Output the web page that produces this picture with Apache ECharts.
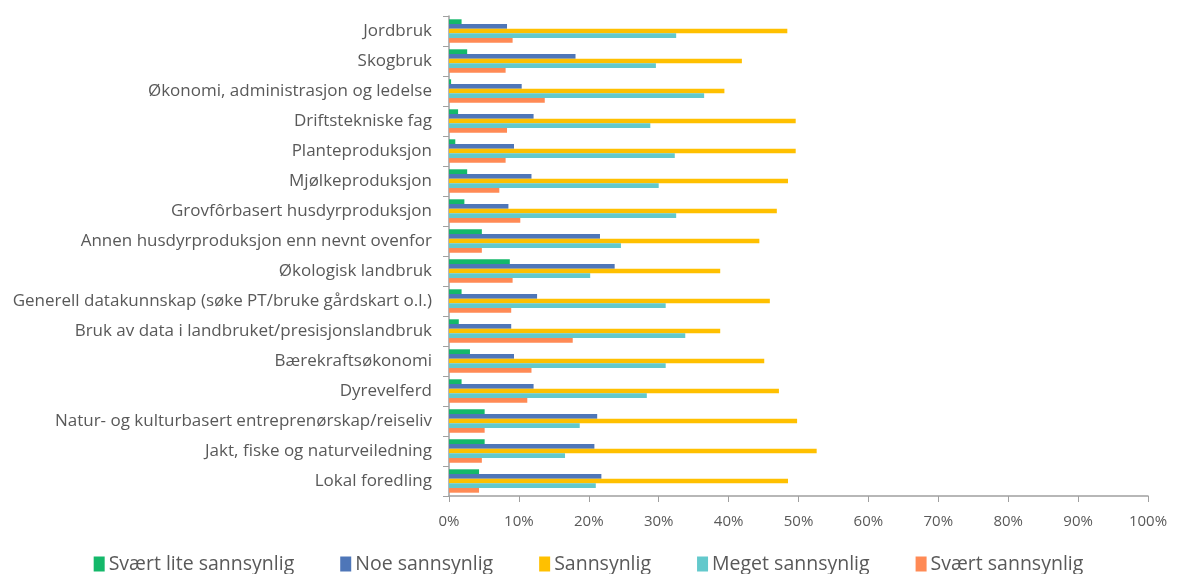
<!DOCTYPE html>
<html>
<head>
<meta charset="utf-8">
<script src="https://cdn.jsdelivr.net/npm/echarts@6/dist/echarts.min.js"></script>
<style>
	html, body { margin: 0; padding: 0; background: #fff; }
	#chart { width: 1177px; height: 574px; }
</style>
</head>
<body>
<div id="chart"></div>
<script>
	const categories = [
		"Jordbruk",
		"Skogbruk",
		"Økonomi, administrasjon og ledelse",
		"Driftstekniske fag",
		"Planteproduksjon",
		"Mjølkeproduksjon",
		"Grovfôrbasert husdyrproduksjon",
		"Annen husdyrproduksjon enn nevnt ovenfor",
		"Økologisk landbruk",
		"Generell datakunnskap (søke PT/bruke gårdskart o.l.)",
		"Bruk av data i landbruket/presisjonslandbruk",
		"Bærekraftsøkonomi",
		"Dyrevelferd",
		"Natur- og kulturbasert entreprenørskap/reiseliv",
		"Jakt, fiske og naturveiledning",
		"Lokal foredling"
	];

	const svaertLite = [1.8, 2.6, 0.3, 1.3, 0.9, 2.6, 2.2, 4.7, 8.7, 1.8, 1.4, 3.0, 1.8, 5.1, 5.1, 4.3];
	const noe = [8.3, 18.1, 10.4, 12.1, 9.3, 11.8, 8.5, 21.6, 23.7, 12.6, 8.9, 9.3, 12.1, 21.2, 20.8, 21.8];
	const sannsynlig = [48.4, 41.9, 39.4, 49.6, 49.6, 48.5, 46.9, 44.4, 38.8, 45.9, 38.8, 45.1, 47.2, 49.8, 52.6, 48.5];
	const meget = [32.5, 29.6, 36.5, 28.8, 32.3, 30.0, 32.5, 24.6, 20.2, 31.0, 33.8, 31.0, 28.3, 18.7, 16.6, 21.0];
	const svaert = [9.1, 8.1, 13.7, 8.3, 8.1, 7.2, 10.2, 4.7, 9.1, 8.9, 17.7, 11.8, 11.2, 5.1, 4.7, 4.3];

	const seriesNames = ["Svært lite sannsynlig", "Noe sannsynlig", "Sannsynlig", "Meget sannsynlig", "Svært sannsynlig"];
	const seriesData = [svaertLite, noe, sannsynlig, meget, svaert];
	const colors = ["#14B86A", "#4E76B8", "#FFC000", "#63C9CC", "#FF8A55"];

	const FONT = "Open Sans";
	const GREY = "#595959";

	const chart = echarts.init(document.getElementById("chart"));
	chart.setOption({
		animation: false,
		color: colors,
		textStyle: { fontFamily: FONT },
		grid: { left: 449, right: 29, top: 16, bottom: 78 },
		legend: {
			top: 549,
			left: "center",
			itemWidth: 11,
			itemHeight: 15,
			itemGap: 46,
			icon: "rect",
			textStyle: { fontSize: 19.5, color: GREY, fontFamily: FONT, padding: [0, 0, 0, -1] },
			data: seriesNames
		},
		xAxis: {
			type: "value",
			min: 0,
			max: 100,
			interval: 10,
			splitLine: { show: false },
			axisLine: { show: true, lineStyle: { color: "#A0A0A0", width: 1.5 } },
			axisTick: { show: true, length: 6, lineStyle: { color: "#A0A0A0" } },
			axisLabel: { formatter: "{value}%", fontSize: 15, color: GREY, margin: 18 }
		},
		yAxis: {
			type: "category",
			inverse: true,
			data: categories,
			axisLine: { show: true, lineStyle: { color: "#A0A0A0", width: 1.5 } },
			axisTick: { show: true, length: 6, lineStyle: { color: "#A0A0A0" } },
			axisLabel: { fontSize: 17, color: GREY, margin: 17 }
		},
		series: seriesNames.map((name, i) => ({
			name: name,
			type: "bar",
			data: seriesData[i],
			barGap: "0%",
			barCategoryGap: "22%"
		}))
	});
</script>
</body>
</html>
